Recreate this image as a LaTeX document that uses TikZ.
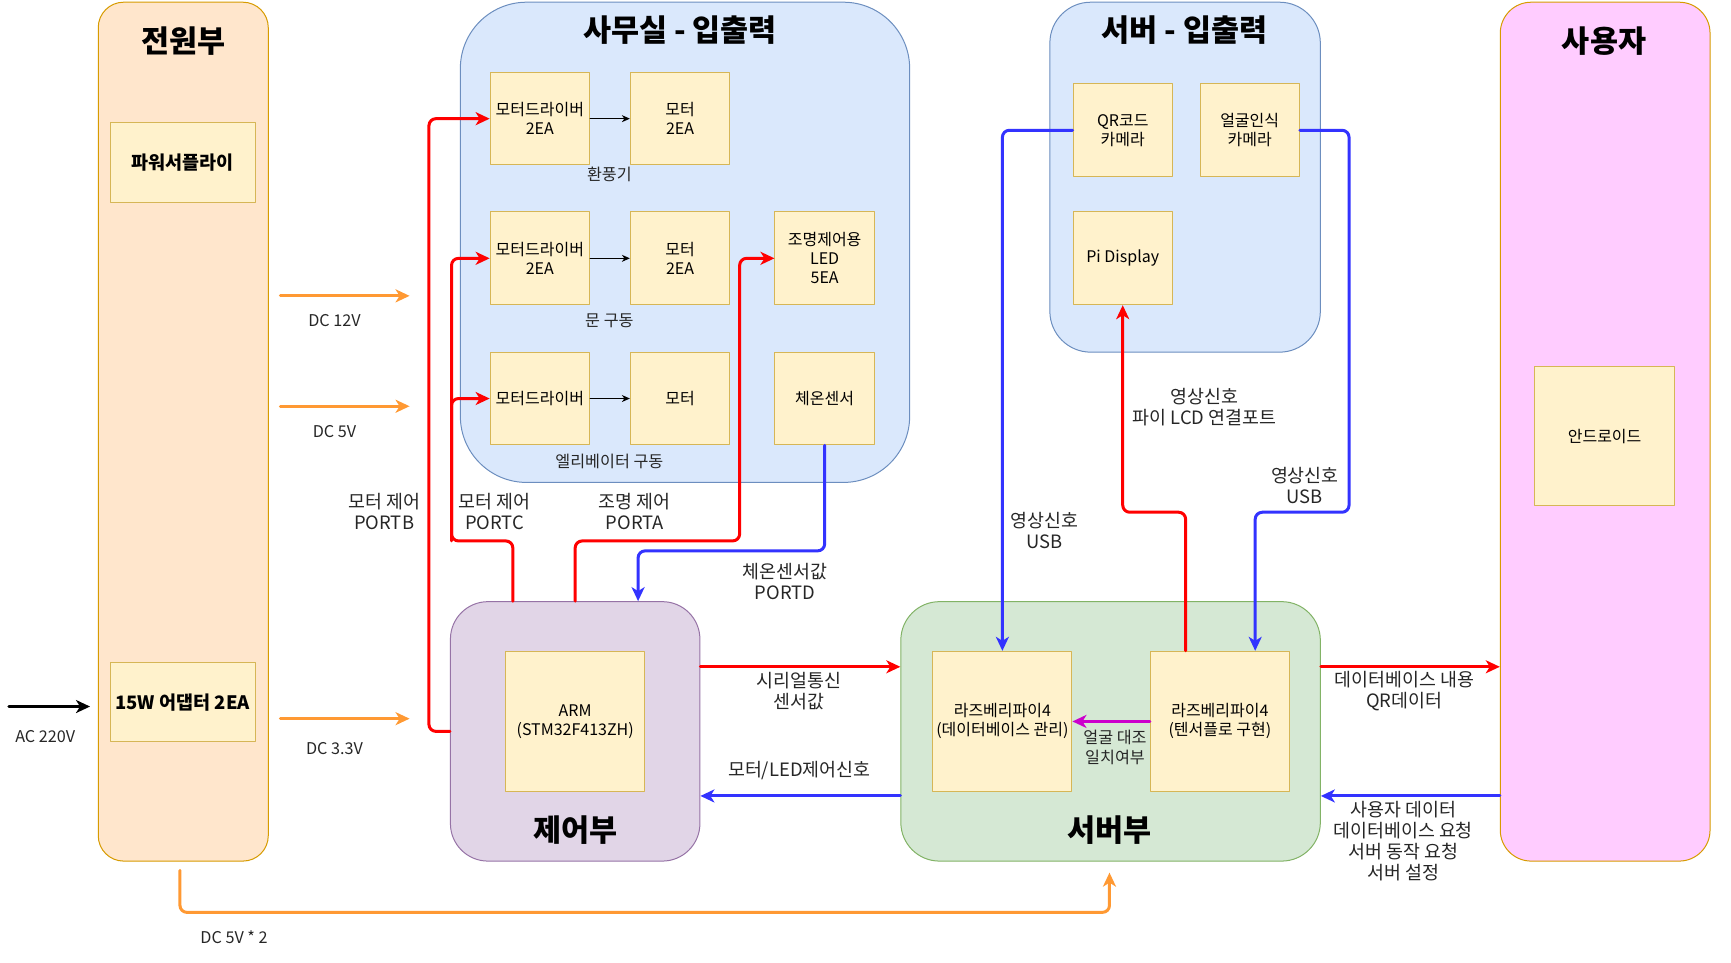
\documentclass[tikz,border=0pt]{standalone}
\usepackage{fontspec}
\setmainfont{Noto Sans CJK KR}
\usepackage{tikz}
\usetikzlibrary{arrows.meta,calc}
\usetikzlibrary{positioning}
\usepackage{xcolor}

\newlength\pxu
\setlength\pxu{1.104pt}

\definecolor{pwrfill}{HTML}{FFE6CC}
\definecolor{pwrline}{HTML}{D79B00}
\definecolor{boxfill}{HTML}{FFF2CC}
\definecolor{boxline}{HTML}{D6B656}
\definecolor{iofill}{HTML}{DAE8FC}
\definecolor{ioline}{HTML}{6C8EBF}
\definecolor{userfill}{HTML}{FFCCFF}
\definecolor{ctrlfill}{HTML}{E1D5E7}
\definecolor{ctrlline}{HTML}{9673A6}
\definecolor{srvfill}{HTML}{D5E8D4}
\definecolor{srvline}{HTML}{82B366}
\definecolor{sigred}{HTML}{FF0000}
\definecolor{sigblue}{HTML}{3333FF}
\definecolor{sigorange}{HTML}{FF9933}
\definecolor{sigpink}{HTML}{CC00CC}

\tikzset{
  panel/.style={draw, line width=1pt, rounded corners=#1},
  part/.style={draw=boxline, fill=boxfill, line width=1pt, align=center,
    inner sep=0pt, font=\fontsize{16}{19}\selectfont},
  boldpart/.style={part, font=\fontsize{18.5}{21}\selectfont\bfseries},
  title/.style={font=\fontsize{30.5}{33}\selectfont\bfseries},
  lbl/.style={align=center, text=black!85, font=\fontsize{18.4}{21}\selectfont},
  small/.style={align=center, text=black!85, font=\fontsize{16.2}{20}\selectfont},
  wire/.style={line width=3pt, rounded corners=7pt,
    -{Stealth[length=14pt,width=13pt,inset=4pt]}},
  flow/.style={line width=1pt, -{Stealth[length=8pt,width=7pt,inset=2.5pt]}},
}

\begin{document}
\begin{tikzpicture}[x=1.104pt, y=-1.104pt, line cap=round, line join=round]
  \useasboundingbox (0,0) rectangle (1568,872);

  % Panels
  \node[panel=23\pxu, draw=pwrline, fill=pwrfill, minimum width=154\pxu, minimum height=778\pxu] (pwr) at (166,391) {};
  \node[panel=60\pxu, draw=ioline, fill=iofill, minimum width=407\pxu, minimum height=435\pxu] (office) at (620.5,219.5) {};
  \node[panel=37\pxu, draw=ioline, fill=iofill, minimum width=245\pxu, minimum height=317\pxu] (srvio) at (1073.5,160.5) {};
  \node[panel=28\pxu, draw=pwrline, fill=userfill, minimum width=190\pxu, minimum height=778\pxu] (user) at (1454,391) {};
  \node[panel=34\pxu, draw=ctrlline, fill=ctrlfill, minimum width=226\pxu, minimum height=235\pxu] (ctrl) at (521,662.5) {};
  \node[panel=35\pxu, draw=srvline, fill=srvfill, minimum width=380\pxu, minimum height=235\pxu] (srv) at (1006,662.5) {};

  % Titles
  \node[title] (pwrT) at (166,37) {전원부};
  \node[title] (officeT) at (616,27) {사무실 - 입출력};
  \node[title] (srvioT) at (1073,27) {서버 - 입출력};
  \node[title] (userT) at (1453,37) {사용자};
  \node[title] (ctrlT) at (521,752) {제어부};
  \node[title] (srvT) at (1005,752) {서버부};

  % Power parts
  \node[boldpart, minimum width=131\pxu, minimum height=72\pxu] (psu) at (165.5,147) {파워서플라이};
  \node[boldpart, minimum width=131\pxu, minimum height=72\pxu] (adapter) at (165.5,636) {15W 어댑터 2EA};

  % Office parts
  \node[part, minimum width=90\pxu, minimum height=83\pxu] (drv1) at (489,107.5) {모터드라이버\\2EA};
  \node[part, minimum width=90\pxu, minimum height=83\pxu] (mot1) at (616,107.5) {모터\\2EA};
  \node[part, minimum width=90\pxu, minimum height=84\pxu] (drv2) at (489,234) {모터드라이버\\2EA};
  \node[part, minimum width=90\pxu, minimum height=84\pxu] (mot2) at (616,234) {모터\\2EA};
  \node[part, minimum width=90\pxu, minimum height=84\pxu] (led) at (747,234) {조명제어용\\LED\\5EA};
  \node[part, minimum width=90\pxu, minimum height=84\pxu] (drv3) at (489,361) {모터드라이버};
  \node[part, minimum width=90\pxu, minimum height=84\pxu] (mot3) at (616,361) {모터};
  \node[part, minimum width=90\pxu, minimum height=84\pxu] (temp) at (747,361) {체온센서};

  \node[small] (fanL) at (552,158) {환풍기};
  \node[small] (doorL) at (552,291) {문 구동};
  \node[small] (liftL) at (552,418) {엘리베이터 구동};

  % Server I/O parts
  \node[part, minimum width=90\pxu, minimum height=84\pxu] (qr) at (1017,118) {QR코드\\카메라};
  \node[part, minimum width=90\pxu, minimum height=84\pxu] (face) at (1132,118) {얼굴인식\\카메라};
  \node[part, minimum width=90\pxu, minimum height=84\pxu] (disp) at (1017,234) {Pi Display};

  % User, control and server parts
  \node[part, minimum width=127\pxu, minimum height=126\pxu] (android) at (1453.5,395) {안드로이드};
  \node[part, minimum width=126\pxu, minimum height=127\pxu] (arm) at (521,653.5) {ARM\\(STM32F413ZH)};
  \node[part, minimum width=126\pxu, minimum height=127\pxu] (rpiDb) at (908,653.5) {라즈베리파이4\\(데이터베이스 관리)};
  \node[part, minimum width=126\pxu, minimum height=127\pxu] (rpiTf) at (1105,653.5) {라즈베리파이4\\(텐서플로 구현)};

  % Points
  \coordinate (acIn) at (8,640);
  \coordinate (v12a) at (254,268);
  \coordinate (v12b) at (371,268);
  \coordinate (v5a) at (254,368);
  \coordinate (v5b) at (371,368);
  \coordinate (v33a) at (254,651);
  \coordinate (v33b) at (371,651);
  \coordinate (bendC) at (409,490);
  \coordinate (bendA) at (670,490);
  \coordinate (bendD) at (578,499);
  \coordinate (bendL) at (1074,464);
  \coordinate (bendF) at (1222,464);
  \coordinate (bendG) at (1137,464);
  \coordinate (rowS) at (0,604);
  \coordinate (rowM) at (0,721);

  % Power
  \draw[wire, black] (acIn) -- ($(pwr.west |- acIn)+(-7,0)$);
  \draw[wire, sigorange] (v12a) -- (v12b);
  \draw[wire, sigorange] (v5a) -- (v5b);
  \draw[wire, sigorange] (v33a) -- (v33b);
  \draw[wire, sigorange] ($(pwr.south)+(-3,8)$) |- ($(srv.south)+(-1,46)$) -- ($(srv.south)+(-1,10)$);

  % Control lines
  \draw[wire, sigred] (ctrl.west) -- ++(-19,0) |- (drv1.west);
  \draw[wire, sigred] ($(ctrl.north west)+(57,0)$) |- (bendC) |- (drv2.west);
  \draw[wire, sigred] (bendC) |- (drv3.west);
  \draw[wire, sigred] (ctrl.north) |- (bendA) |- (led.west);
  \draw[wire, sigblue] (temp.south) |- (bendD) -- (bendD |- ctrl.north);
  \foreach \i in {1,2,3}
    \draw[flow] (drv\i.east) -- (mot\i.west);

  % Server lines
  \draw[wire, sigred] (ctrl.east |- rowS) -- (srv.west |- rowS);
  \draw[wire, sigblue] (srv.west |- rowM) -- (ctrl.east |- rowM);
  \draw[wire, sigred] (srv.east |- rowS) -- (user.west |- rowS);
  \draw[wire, sigblue] (user.west |- rowM) -- (srv.east |- rowM);
  \draw[wire, sigblue] (qr.west) -| (rpiDb.north);
  \draw[wire, sigred] (bendL |- rpiTf.north) -- (bendL) -| (disp.south);
  \draw[wire, sigblue] (face.east) -| (bendF) -- (bendG) -- (bendG |- rpiTf.north);
  \draw[wire, sigpink] (rpiTf.west) -- (rpiDb.east);

  % Labels
  \node[small] (acL) at (41,667) {AC 220V};
  \node[small] (v12L) at (303,290) {DC 12V};
  \node[small] (v5L) at (303,391) {DC 5V};
  \node[small] (v33L) at (303,678) {DC 3.3V};
  \node[small] (v52L) at (212,849) {DC 5V * 2};
  \node[lbl] (portbL) at (348,463) {모터 제어\\PORTB};
  \node[lbl] (portcL) at (448,463) {모터 제어\\PORTC};
  \node[lbl] (portaL) at (575,463) {조명 제어\\PORTA};
  \node[lbl] (portdL) at (711,527) {체온센서값\\PORTD};
  \node[lbl] (serialL) at (724,626) {시리얼통신\\센서값};
  \node[lbl] (motorL) at (724,698) {모터/LED제어신호};
  \node[lbl] (qrL) at (946,481) {영상신호\\USB};
  \node[lbl] (lcdL) at (1091,369) {영상신호\\파이 LCD 연결포트};
  \node[lbl] (faceL) at (1182,440) {영상신호\\USB};
  \node[small] (matchL) at (1010,677) {얼굴 대조\\일치여부};
  \node[lbl] (dbL) at (1272,626) {데이터베이스 내용\\QR데이터};
  \node[lbl] (reqL) at (1271,762) {사용자 데이터\\데이터베이스 요청\\서버 동작 요청\\서버 설정};
\end{tikzpicture}
\end{document}
